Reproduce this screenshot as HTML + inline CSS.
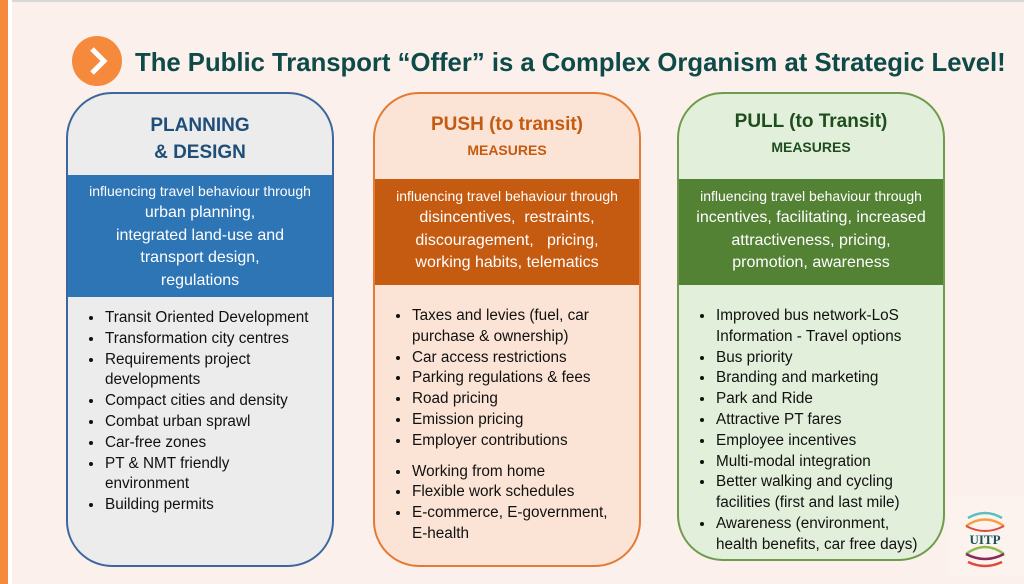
<!DOCTYPE html>
<html><head><meta charset="utf-8"><style>
body{margin:0;width:1024px;height:584px;background:#fbf0eb;position:relative;overflow:hidden;font-family:"Liberation Sans",sans-serif}
.ob{position:absolute;left:0;top:0;width:8px;height:584px;background:#f58a3d}
.wb{position:absolute;left:8px;top:0;width:4px;height:584px;background:#fff}
.tb{position:absolute;left:0;top:0;width:1024px;height:2px;background:#d8d8d8}
.title{position:absolute;left:135px;top:49px;font-size:25.7px;font-weight:bold;color:#0d4a48;white-space:nowrap}
.icon{position:absolute;left:72px;top:36px;width:50px;height:50px;border-radius:50%;background:#f58a3d}
.box{position:absolute;border:2px solid;border-radius:46px;overflow:hidden;box-sizing:border-box}
.hd{text-align:center;font-weight:bold;position:absolute;left:0;right:0}
.band{position:absolute;left:0;right:0;color:#fff;text-align:center;white-space:nowrap}
.band .s{font-size:14px;margin-bottom:3px}
.band .b{font-size:16px;line-height:22.5px}
ul{position:absolute;margin:0;padding-left:36px;font-size:15.3px;line-height:20.8px;color:#111;list-style:disc;white-space:nowrap}
li{padding-left:1px}
</style></head><body>
<div class="tb"></div><div class="ob"></div><div class="wb"></div>
<div class="icon"><svg width="50" height="50"><polyline points="20,13 32,25 20,37" fill="none" stroke="#fff" stroke-width="5"/></svg></div>
<div class="title">The Public Transport “Offer” is a Complex Organism at Strategic Level!</div>

<div class="box" style="left:66px;top:92px;width:268px;height:475px;border-color:#3c679e;background:#ececec">
<div class="hd" style="top:18px;font-size:19px;line-height:27px;color:#1f4e79">PLANNING<br>&amp; DESIGN</div>
<div class="band" style="top:81px;height:122px;background:#2e75b6"><div class="s" style="margin-top:8px">influencing travel behaviour through</div><div class="b">urban planning,<br>integrated land-use and<br>transport design,<br>regulations</div></div>
<ul style="top:214px;left:0"><li>Transit Oriented Development</li><li>Transformation city centres</li><li>Requirements project<br>developments</li><li>Compact cities and density</li><li>Combat urban sprawl</li><li>Car-free zones</li><li>PT &amp; NMT friendly<br>environment</li><li>Building permits</li></ul>
</div>

<div class="box" style="left:373px;top:92px;width:268px;height:475px;border-color:#e47a33;background:#fbe4d5">
<div class="hd" style="top:20px;font-size:19px;color:#c55a11">PUSH (to transit)</div>
<div class="hd" style="top:48px;font-size:14px;color:#c55a11">MEASURES</div>
<div class="band" style="top:85px;height:106px;background:#c55a11"><div class="s" style="margin-top:9px">influencing travel behaviour through</div><div class="b">disincentives,&nbsp; restraints,<br>discouragement,&nbsp;&nbsp; pricing,<br>working habits, telematics</div></div>
<ul style="top:212px;left:0"><li>Taxes and levies (fuel, car<br>purchase &amp; ownership)</li><li>Car access restrictions</li><li>Parking regulations &amp; fees</li><li>Road pricing</li><li>Emission pricing</li><li>Employer contributions</li><li style="margin-top:10px">Working from home</li><li>Flexible work schedules</li><li>E-commerce, E-government,<br>E-health</li></ul>
</div>

<div class="box" style="left:677px;top:92px;width:268px;height:469px;border-color:#6e9c4c;background:#e2efda">
<div class="hd" style="top:17px;font-size:19px;color:#1e4d1e">PULL (to Transit)</div>
<div class="hd" style="top:45px;font-size:14px;color:#1e4d1e">MEASURES</div>
<div class="band" style="top:85px;height:106px;background:#548235"><div class="s" style="margin-top:9px">influencing travel behaviour through</div><div class="b">incentives, facilitating, increased<br>attractiveness, pricing,<br>promotion, awareness</div></div>
<ul style="top:212px;left:0"><li>Improved bus network-LoS<br>Information - Travel options</li><li>Bus priority</li><li>Branding and marketing</li><li>Park and Ride</li><li>Attractive PT fares</li><li>Employee incentives</li><li>Multi-modal integration</li><li>Better walking and cycling<br>facilities (first and last mile)</li><li>Awareness (environment,<br>health benefits, car free days)</li></ul>
</div>

<div style="position:absolute;left:948px;top:497px;width:76px;height:80px;background:#fcf3ef"></div>
<svg style="position:absolute;left:960px;top:508px" width="50" height="60">
<path d="M8,10 Q25,0 42,10" stroke="#5bc0be" stroke-width="2.5" fill="none"/>
<path d="M6,18 Q25,5 44,18" stroke="#f5a040" stroke-width="2.5" fill="none"/>
<path d="M6,18 Q25,28 44,18" stroke="#e04a3a" stroke-width="2" fill="none"/>
<text x="25" y="36" font-family="Liberation Serif,serif" font-weight="bold" font-size="13" fill="#15525a" text-anchor="middle">UITP</text>
<path d="M6,46 Q25,32 44,46" stroke="#8bbf4a" stroke-width="2.5" fill="none"/>
<path d="M6,46 Q25,56 44,46" stroke="#8a2a5a" stroke-width="2.5" fill="none"/>
<path d="M8,54 Q25,62 42,54" stroke="#e04a3a" stroke-width="2.5" fill="none"/>
</svg>
</body></html>
